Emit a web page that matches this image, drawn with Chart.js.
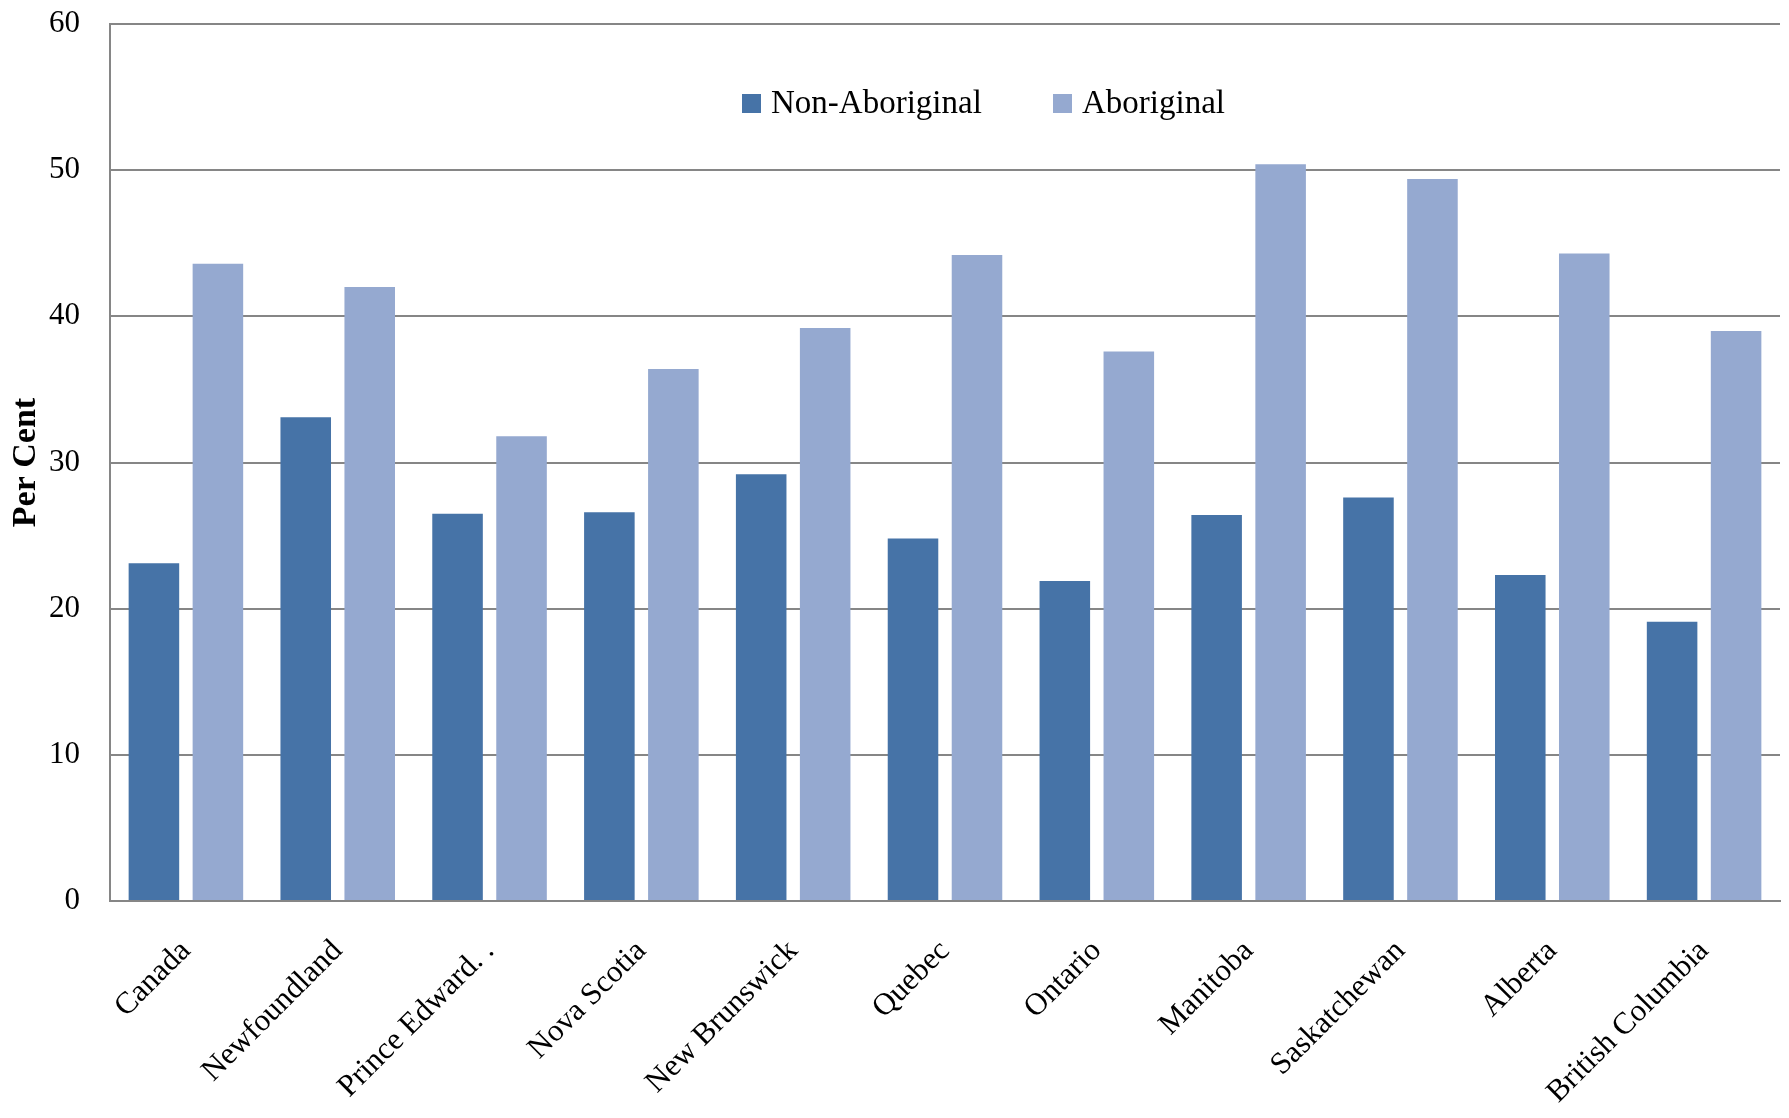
<!DOCTYPE html>
<html>
<head>
<meta charset="utf-8">
<script src="https://cdn.jsdelivr.net/npm/chart.js@4.4.0/dist/chart.umd.min.js"></script>
<style>
  html, body { margin: 0; padding: 0; background: #ffffff; }
  #wrap { width: 1789px; height: 1118px; }
</style>
</head>
<body>
<div id="wrap"><canvas id="chart" width="1789" height="1118"></canvas></div>
<script>
// Provinces along the x axis
const categories = ['Canada', 'Newfoundland', 'Prince Edward. .', 'Nova Scotia', 'New Brunswick',
    'Quebec', 'Ontario', 'Manitoba', 'Saskatchewan', 'Alberta', 'British Columbia'];

// Per cent values
const nonAboriginal = [23.1, 33.1, 26.5, 26.6, 29.2, 24.8, 21.9, 26.4, 27.6, 22.3, 19.1];
const aboriginal    = [43.6, 42.0, 31.8, 36.4, 39.2, 44.2, 37.6, 50.4, 49.4, 44.3, 39.0];

const seriesNames = ['Non-Aboriginal', 'Aboriginal'];
const yTicks = [0, 10, 20, 30, 40, 50, 60];

const FONT = '"Liberation Serif", "Times New Roman", serif';

// simple legend drawn inside the plot area
const insideLegend = {
    id: 'insideLegend',
    afterDraw: function(chart) {
        const ctx = chart.ctx;
        const items = [
            { x: 742, text: seriesNames[0], color: chart.data.datasets[0].backgroundColor },
            { x: 1053, text: seriesNames[1], color: chart.data.datasets[1].backgroundColor }
        ];
        const cy = 103;
        ctx.save();
        ctx.font = '33px ' + FONT;
        ctx.textBaseline = 'middle';
        items.forEach(function(it) {
            ctx.fillStyle = it.color;
            ctx.fillRect(it.x, cy - 9, 19, 19);
            ctx.fillStyle = '#000000';
            ctx.fillText(it.text, it.x + 29, cy + 1);
        });
        ctx.restore();
    }
};

const ctx = document.getElementById('chart').getContext('2d');
new Chart(ctx, {
    type: 'bar',
    data: {
        labels: categories,
        datasets: [
            {
                label: seriesNames[0],
                data: nonAboriginal,
                backgroundColor: '#4673a7',
                categoryPercentage: 0.843,
                barPercentage: 0.79
            },
            {
                label: seriesNames[1],
                data: aboriginal,
                backgroundColor: '#95a9d0',
                categoryPercentage: 0.843,
                barPercentage: 0.79
            }
        ]
    },
    options: {
        responsive: false,
        animation: false,
        devicePixelRatio: 1,
        layout: { padding: { top: 24, right: 9, left: 0, bottom: 0 } },
        plugins: {
            legend: { display: false },
            tooltip: { enabled: false }
        },
        scales: {
            x: {
                grid: { display: false, drawTicks: false },
                border: { display: true, color: '#868686', width: 2 },
                ticks: {
                    color: '#000000',
                    font: { family: FONT, size: 31 },
                    minRotation: 45,
                    maxRotation: 45,
                    autoSkip: false,
                    padding: 32
                },
                afterFit: function(scale) {
                    scale.height = 217;
                    scale.paddingLeft = 0;
                    scale.paddingRight = 0;
                }
            },
            y: {
                min: 0,
                max: 60,
                afterBuildTicks: function(scale) {
                    scale.ticks = yTicks.map(function(v) { return { value: v }; });
                },
                grid: { color: '#868686', lineWidth: 2, drawTicks: false },
                border: { display: true, color: '#868686', width: 2 },
                ticks: {
                    color: '#000000',
                    font: { family: FONT, size: 31 },
                    padding: 30
                },
                title: {
                    display: true,
                    text: 'Per Cent',
                    color: '#000000',
                    font: { family: FONT, size: 34, weight: 'bold' },
                    padding: { top: 6, bottom: 0 }
                },
                afterFit: function(scale) {
                    scale.width = 110;
                    scale.paddingTop = 0;
                    scale.paddingBottom = 0;
                }
            }
        }
    },
    plugins: [insideLegend]
});
</script>
</body>
</html>
